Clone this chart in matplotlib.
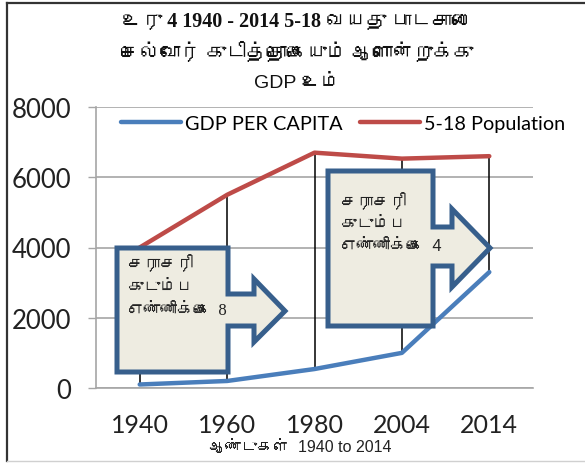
import matplotlib
matplotlib.use("Agg")
import matplotlib.pyplot as plt
from matplotlib import font_manager
from matplotlib.ft2font import FT2Font
from matplotlib.patches import Polygon
from matplotlib.lines import Line2D

# data
years = ['1940', '1960', '1980', '2004', '2014']
gdp_per_capita = [100, 200, 540, 1000, 3300]
population_5_18 = [4000, 5500, 6700, 6530, 6600]
yticks = [0, 2000, 4000, 6000, 8000]

title_line1 = "உரு 4 1940 - 2014 5-18 வயது பாடசாலை"
title_line2 = "செல்வோர் குடித்தொகையும் ஆளொன்றுக்கு"
title_line3 = "GDP உம்"
xlabel = "ஆண்டுகள்  1940 to 2014"
callout_left = "சராசரி\nகுடும்ப\nஎண்ணிக்கை  8"
callout_right = "சராசரி\nகுடும்ப\nஎண்ணிக்கை  4"


# look for any installed font that has Tamil glyphs
def find_tamil_font():
    for fe in font_manager.fontManager.ttflist:
        try:
            if 0x0B95 in FT2Font(fe.fname).get_charmap():
                return fe.name
        except Exception:
            pass
    return None


tamil = find_tamil_font()
def fam(*names):
    out = list(names)
    if tamil:
        out.append(tamil)
    out.append('DejaVu Sans')
    return out


W, H = 585, 464
fig = plt.figure(figsize=(W / 100, H / 100), dpi=100)
ax = fig.add_axes([96 / W, 1 - 389 / H, (533 - 96) / W, (389 - 108) / H])

x = list(range(len(years)))
grid_c = '#A6A6A6'

ax.vlines(x, gdp_per_capita, population_5_18, color='black', lw=1.1, zorder=2)
ax.plot(x, gdp_per_capita, color='#4A7EBB', lw=3.2, solid_capstyle='round',
        label='GDP PER CAPITA', zorder=3)
ax.plot(x, population_5_18, color='#BE4B48', lw=3.2, solid_capstyle='round',
        label='5-18 Population', zorder=3)

ax.set_xlim(-0.5, len(years) - 0.5)
ax.set_ylim(0, 8000)
ax.set_yticks(yticks)
ax.set_yticklabels([str(v) for v in yticks], family=['Lato'], fontsize=18.5, color='#222222')
ax.set_xticks(x)
ax.set_xticklabels(years, family=['Lato'], fontsize=18, color='#222222')
ax.tick_params(axis='y', length=6, width=1, color=grid_c, pad=12)
ax.tick_params(axis='x', length=0, pad=18)
ax.grid(axis='y', color=grid_c, lw=1.2)
ax.set_axisbelow(True)
for s in ['top', 'right']:
    ax.spines[s].set_visible(False)
for s in ['left', 'bottom']:
    ax.spines[s].set_color(grid_c)
    ax.spines[s].set_linewidth(1.2)

ax.legend(loc='upper center', bbox_to_anchor=(0.565, 1.035), ncol=2, frameon=False,
          prop={'family': 'Lato', 'size': 14.3}, handlelength=3.0, handletextpad=0.2,
          columnspacing=0.9)

# arrow callouts, in figure pixels (y downward)
def px(pts):
    return [(a / W, 1 - b / H) for a, b in pts]

left_shape = [(117, 249), (228, 249), (228, 295), (254, 295), (254, 280), (285, 312),
              (254, 343), (254, 327), (228, 327), (228, 373), (117, 373)]
right_shape = [(328, 172), (433, 172), (433, 228), (452, 228), (452, 210), (490, 249),
               (452, 288), (452, 267), (433, 267), (433, 327), (328, 327)]
for shape in [left_shape, right_shape]:
    fig.patches.append(Polygon(px(shape), closed=True, transform=fig.transFigure,
                               facecolor='#EEECE1', edgecolor='#375F8C', lw=3.6,
                               joinstyle='miter', zorder=5))

fig.text(127 / W, 1 - 255 / H, callout_left, family=fam('Liberation Serif'), fontsize=12,
         va='top', ha='left', linespacing=1.6, color='#222222', zorder=6)
fig.text(340 / W, 1 - 192 / H, callout_right, family=fam('Liberation Sans'), fontsize=12,
         va='top', ha='left', linespacing=1.6, color='#222222', zorder=6)

# title
fig.text(297 / W, 1 - 22 / H, title_line1, family=fam('Liberation Serif'), fontsize=14.5,
         weight='bold', ha='center', va='center', color='#111111')
fig.text(297 / W, 1 - 52 / H, title_line2, family=fam('Liberation Sans'), fontsize=14.5,
         weight='bold', ha='center', va='center', color='#111111')
fig.text(297 / W, 1 - 83 / H, title_line3, family=fam('Liberation Sans'), fontsize=14,
         ha='center', va='center', color='#111111')

fig.text(300 / W, 1 - 448 / H, xlabel, family=fam('Liberation Sans'), fontsize=11.5,
         ha='center', va='center', color='#222222')

# outer frame of the picture
fig.lines.append(Line2D([7 / W, 7 / W], [1 - 462 / H, 1 - 4 / H], transform=fig.transFigure,
                        color='#333333', lw=1.6))
fig.lines.append(Line2D([7 / W, 1], [1 - 4 / H, 1 - 4 / H], transform=fig.transFigure,
                        color='#333333', lw=1.6))
fig.lines.append(Line2D([7 / W, 1], [1 - 462 / H, 1 - 462 / H], transform=fig.transFigure,
                        color='#D0D0D0', lw=1.0))

fig.savefig('out.png', dpi=100)
